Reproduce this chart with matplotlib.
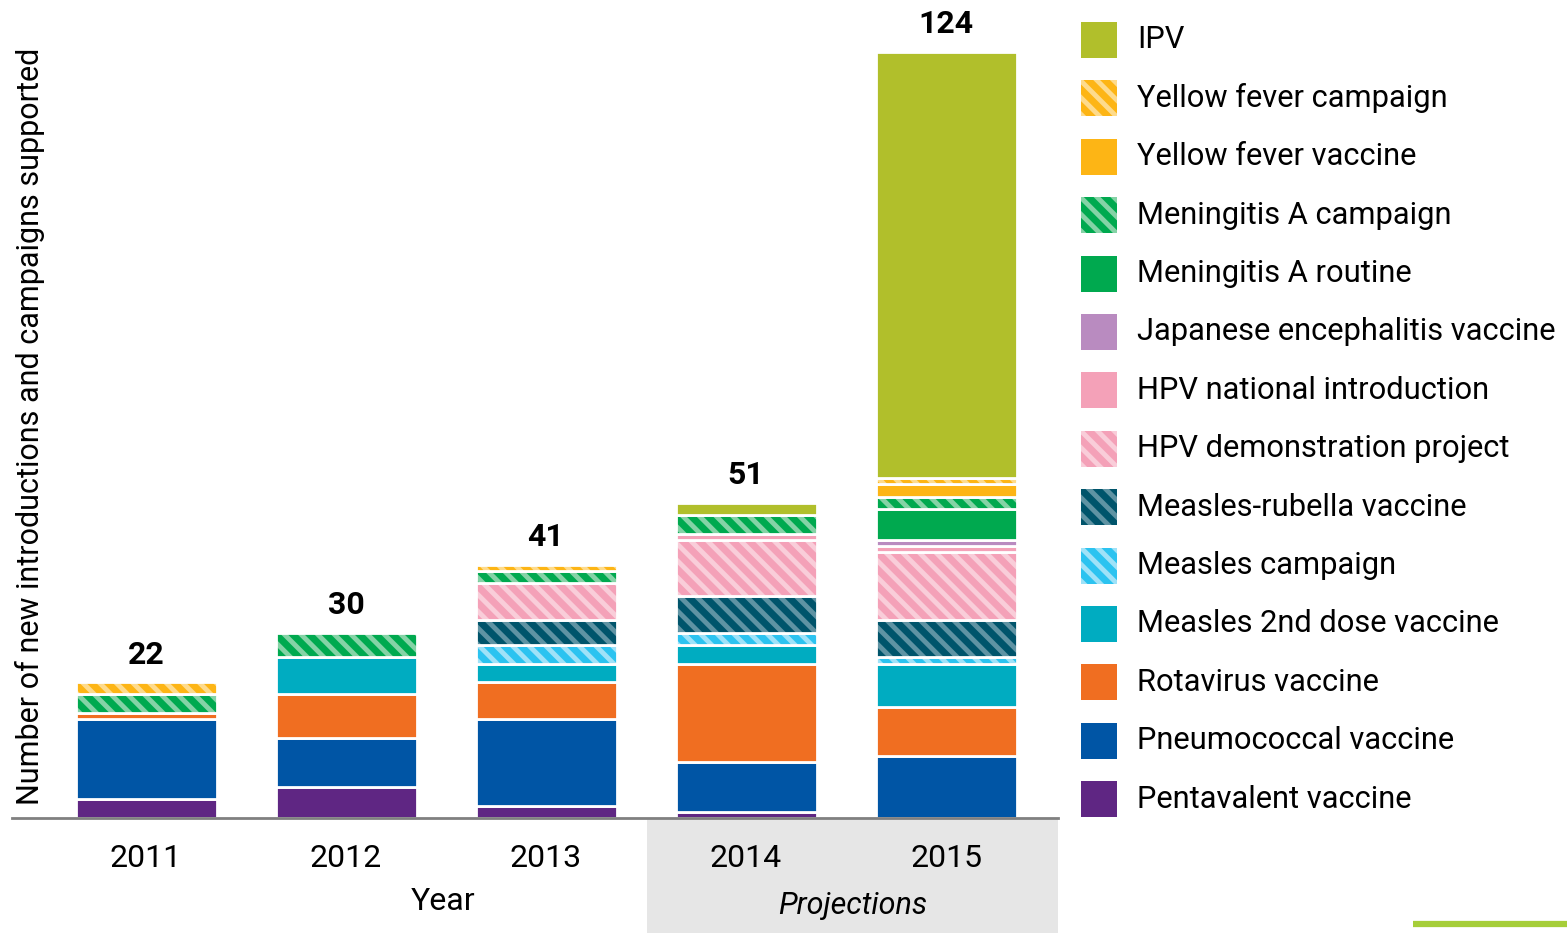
import matplotlib.pyplot as plt
from matplotlib.patches import Rectangle

plt.rcParams['font.family'] = ['Roboto', 'DejaVu Sans']
plt.rcParams['hatch.linewidth'] = 3.5

years = ['2011', '2012', '2013', '2014', '2015']

# stacked from bottom to top
series_names = [
    'Pentavalent vaccine', 'Pneumococcal vaccine', 'Rotavirus vaccine',
    'Measles 2nd dose vaccine', 'Measles campaign', 'Measles-rubella vaccine',
    'HPV demonstration project', 'HPV national introduction',
    'Japanese encephalitis vaccine', 'Meningitis A routine',
    'Meningitis A campaign', 'Yellow fever vaccine', 'Yellow fever campaign', 'IPV',
]
pentavalent = [3, 5, 2, 1, 0]
pneumococcal = [13, 8, 14, 8, 10]
rotavirus = [1, 7, 6, 16, 8]
measles_2nd = [0, 6, 3, 3, 7]
measles_campaign = [0, 0, 3, 2, 1]
measles_rubella = [0, 0, 4, 6, 6]
hpv_demo = [0, 0, 6, 9, 11]
hpv_national = [0, 0, 0, 1, 1]
je = [0, 0, 0, 0, 1]
mena_routine = [0, 0, 0, 0, 5]
mena_campaign = [3, 4, 2, 3, 2]
yf_vaccine = [0, 0, 0, 0, 2]
yf_campaign = [2, 0, 1, 0, 1]
ipv = [0, 0, 0, 2, 69]

series_values = [pentavalent, pneumococcal, rotavirus, measles_2nd, measles_campaign,
                 measles_rubella, hpv_demo, hpv_national, je, mena_routine,
                 mena_campaign, yf_vaccine, yf_campaign, ipv]

# (face colour, stripe colour or None)
styles = [
    ('#5f2683', None),
    ('#0055a5', None),
    ('#f06e21', None),
    ('#00acc1', None),
    ('#2cc3f0', '#9fe2f8'),
    ('#00546b', '#5f93a3'),
    ('#f4a1b8', '#f9cdd9'),
    ('#f4a1b8', None),
    ('#b98bc0', None),
    ('#00a94f', None),
    ('#00a94f', '#85d3a6'),
    ('#fdb515', None),
    ('#fdb515', '#fedb8c'),
    ('#b1bf2b', None),
]

W, H = 1567, 933
fig = plt.figure(figsize=(W / 100, H / 100), dpi=100)

# pixel-space background axes for the shaded band, legend and decorations
bg = fig.add_axes([0, 0, 1, 1], zorder=0)
bg.set_xlim(0, W)
bg.set_ylim(H, 0)
bg.axis('off')
bg.add_patch(Rectangle((647, 819), 1058 - 647, H - 819, color='#e6e6e6', lw=0))
bg.plot([1413, 1567], [924, 924], color='#a6ce39', lw=4.5, solid_capstyle='butt')

ax = fig.add_axes([12 / W, 115 / H, 1046 / W, 816 / H], zorder=1)
ax.patch.set_alpha(0)
x = list(range(len(years)))
bar_w = 0.705
bottom = [0] * len(years)
for vals, (fc, stripe) in zip(series_values, styles):
    for i, v in enumerate(vals):
        if v <= 0:
            continue
        if stripe:
            ax.bar(x[i], v, bar_w, bottom=bottom[i], color=fc, edgecolor=stripe,
                   hatch='\\\\', linewidth=0)
        else:
            ax.bar(x[i], v, bar_w, bottom=bottom[i], color=fc, linewidth=0)
        ax.bar(x[i], v, bar_w, bottom=bottom[i], facecolor='none',
               edgecolor='white', linewidth=2)
    bottom = [b + v for b, v in zip(bottom, vals)]

totals = bottom
for i, t in enumerate(totals):
    ax.annotate(str(t), (x[i], t), xytext=(0, 9), textcoords='offset points',
                ha='center', va='bottom', fontsize=23, fontweight='bold')

ax.set_xlim(-0.67, 4.56)
ax.set_ylim(0, 816 / 6.18)
for s in ['top', 'right', 'left']:
    ax.spines[s].set_visible(False)
ax.spines['bottom'].set_color('#808080')
ax.spines['bottom'].set_linewidth(2)
ax.set_yticks([])
ax.set_xticks(x)
ax.set_xticklabels(years, fontsize=23)
ax.tick_params(axis='x', length=0, pad=19)
ax.set_ylabel('Number of new introductions and campaigns supported', fontsize=22)
ax.yaxis.set_label_coords(33 / 1046, (818 - 426) / 816)

bg.text(443, 902, 'Year', ha='center', va='center', fontsize=23)
bg.text(853, 905, 'Projections', ha='center', va='center', fontsize=22, style='italic')

# legend, top entry first
row_y = 40
for name, (fc, stripe) in zip(series_names[::-1], styles[::-1]):
    if stripe:
        bg.add_patch(Rectangle((1081, row_y - 18), 36, 36, facecolor=fc,
                               edgecolor=stripe, hatch='\\\\', lw=0))
    else:
        bg.add_patch(Rectangle((1081, row_y - 18), 36, 36, facecolor=fc, lw=0))
    bg.text(1137, row_y, name, ha='left', va='center', fontsize=22.2)
    row_y += 58.4

fig.savefig('out.png', dpi=100)
